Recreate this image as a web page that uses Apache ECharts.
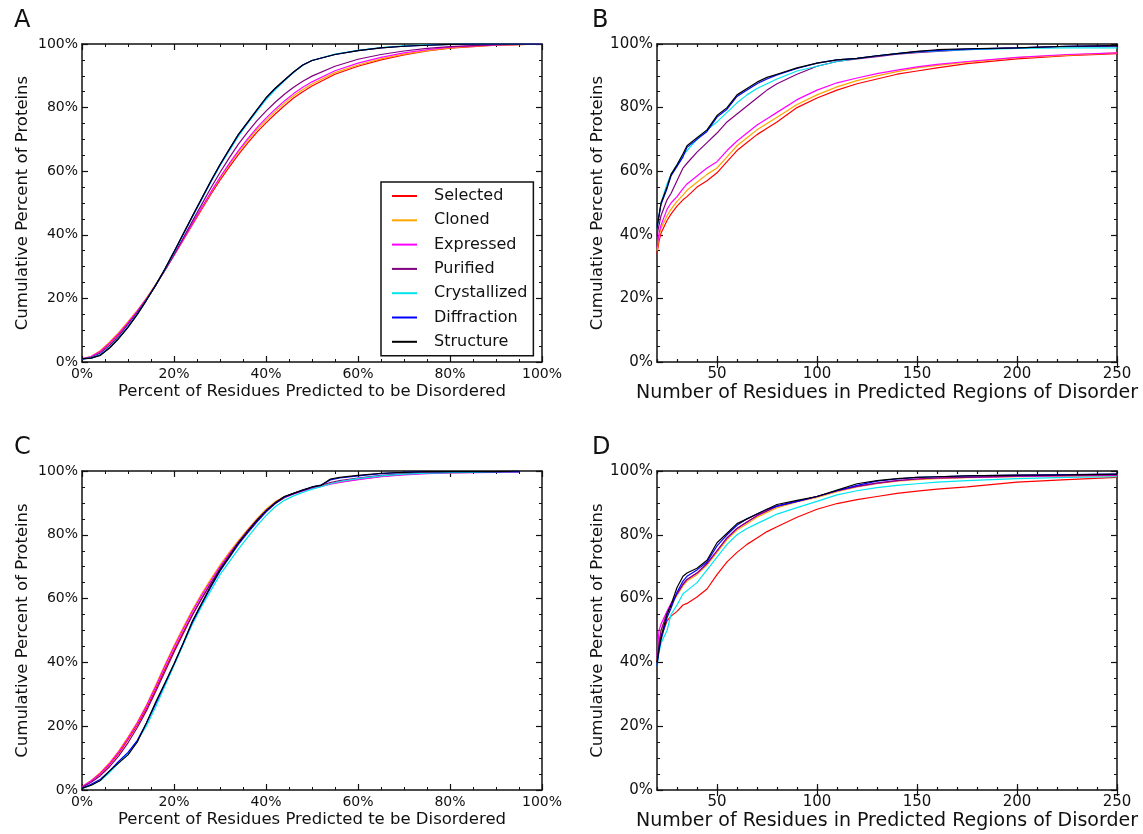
<!DOCTYPE html>
<html>
<head>
<meta charset="utf-8">
<script src="https://cdn.jsdelivr.net/npm/echarts@6/dist/echarts.min.js"></script>
<style>
  html, body { margin: 0; padding: 0; background: #fff; }
  #chart { width: 1143px; height: 834px; }
</style>
</head>
<body>
<div id="chart"></div>
<script>
// series names, in legend order
const names = ['Selected', 'Cloned', 'Expressed', 'Purified', 'Crystallized', 'Diffraction', 'Structure'];
const colors = ['#ff0000', '#ffa500', '#ff00ff', '#800080', '#00e5ee', '#0000ff', '#000000'];

// panel A: percent of residues predicted disordered (x) -> cumulative %
const xA = [0, 2, 4, 6, 8, 10, 12, 14, 16, 18, 20, 22, 24, 26, 28, 30, 32, 34, 36, 38, 40, 42, 44, 46, 48, 50, 55, 60, 65, 70, 75, 80, 85, 90, 95, 100];
const aSelected = [1, 1.6, 3.2, 5.8, 8.8, 12.2, 15.8, 19.8, 24.2, 28.8, 33.5, 38.3, 43.2, 48, 52.7, 57.2, 61.3, 65.2, 68.8, 72.2, 75.2, 78, 80.6, 83, 85, 86.8, 90.5, 93, 95, 96.6, 97.8, 98.7, 99.2, 99.6, 99.8, 100];
const aCloned = [1, 1.8, 3.6, 6.3, 9.3, 12.7, 16.2, 20.1, 24.4, 28.9, 33.6, 38.5, 43.5, 48.4, 53.2, 57.8, 62, 66, 69.6, 73, 76, 78.8, 81.4, 83.7, 85.7, 87.4, 91, 93.4, 95.3, 96.8, 97.9, 98.8, 99.3, 99.6, 99.8, 100];
const aExpressed = [1, 1.7, 3.4, 6, 9, 12.4, 16, 19.9, 24.2, 28.8, 33.6, 38.5, 43.5, 48.5, 53.4, 58.1, 62.4, 66.5, 70.2, 73.6, 76.7, 79.5, 82.1, 84.4, 86.4, 88.1, 91.6, 94, 95.8, 97.2, 98.2, 99, 99.4, 99.7, 99.9, 100];
const aPurified = [1, 1.5, 2.8, 5.2, 8.2, 11.8, 15.5, 19.6, 24.1, 28.8, 33.8, 39, 44.3, 49.5, 54.7, 59.6, 64.2, 68.5, 72.3, 75.8, 78.9, 81.7, 84.2, 86.4, 88.3, 89.9, 93, 95.2, 96.7, 97.8, 98.6, 99.2, 99.5, 99.8, 99.9, 100];
const aCrystallized = [1, 1.3, 2.4, 4.7, 7.7, 11.2, 15.1, 19.5, 24.1, 29, 34.4, 40, 45.6, 51, 56.5, 61.7, 66.4, 71, 75, 78.8, 82.5, 85.6, 88.4, 91, 93.3, 94.8, 96.8, 98, 98.9, 99.4, 99.7, 99.9, 100, 100, 100, 100];
const aDiffraction = [1, 1.2, 2.2, 4.5, 7.5, 11, 15, 19.4, 24.1, 29.1, 34.6, 40.2, 45.8, 51.3, 56.8, 62, 66.8, 71.5, 75.3, 79.2, 83, 86, 88.6, 91.2, 93.4, 94.8, 96.7, 97.9, 98.8, 99.3, 99.6, 99.9, 100, 100, 100, 100];
const aStructure = [1, 1.2, 2.1, 4.4, 7.4, 10.9, 14.9, 19.4, 24.1, 29.2, 34.7, 40.3, 45.9, 51.4, 56.9, 62.1, 66.9, 71.6, 75.4, 79.3, 83.1, 86.1, 88.7, 91.2, 93.4, 94.8, 96.7, 97.9, 98.8, 99.3, 99.6, 99.9, 100, 100, 100, 100];

// panel B: residues in predicted disordered regions (x) -> cumulative %
const xB = [20, 21, 22, 25, 27, 30, 33, 35, 40, 45, 50, 55, 60, 65, 70, 75, 80, 90, 100, 110, 120, 130, 140, 150, 160, 175, 200, 225, 250];
const bSelected = [34, 38, 40.5, 44.5, 46.5, 49, 51, 52, 55, 57, 59.5, 63, 66.5, 69, 71.5, 73.5, 75.5, 80, 83, 85.5, 87.5, 89, 90.5, 91.5, 92.5, 93.8, 95.3, 96.3, 97];
const bCloned = [35, 39.5, 42, 46, 48, 50.5, 52.5, 54, 56.5, 59, 61, 64.5, 68, 70.5, 73, 75, 77, 81, 84, 86.5, 88.5, 90, 91.3, 92.5, 93.3, 94.3, 95.7, 96.5, 97.2];
const bExpressed = [36, 40.5, 43, 48, 50, 52, 54.5, 56, 58.5, 61, 63, 66.5, 69.5, 72, 74.5, 76.5, 78.5, 82.5, 85.5, 87.8, 89.3, 90.7, 91.8, 92.8, 93.6, 94.5, 95.8, 96.7, 97.2];
const bPurified = [40, 43, 46, 51, 53, 57, 61, 62.5, 66, 69, 72, 75.5, 78, 80.5, 83, 85.5, 87.5, 90.5, 93, 94.5, 95.3, 96, 96.8, 97.3, 97.7, 98.2, 98.8, 99.2, 99.3];
const bCrystallized = [42, 46, 50, 56, 59, 62, 65, 66.5, 70, 73, 75.5, 78.5, 81.5, 84, 86, 87.5, 89, 91.5, 93, 94.5, 95.5, 96.3, 97, 97.5, 97.8, 98.2, 98.6, 98.8, 98.8];
const bDiffraction = [43, 46, 49.5, 54.5, 58.5, 61.5, 64.5, 67.5, 70, 72.5, 77, 79.5, 83.5, 85.5, 87.5, 89, 90.3, 92.3, 94, 95, 95.5, 96.3, 97, 97.6, 98, 98.4, 98.8, 99.3, 99.5];
const bStructure = [42, 46, 50, 55, 59, 62, 65.5, 68, 70.5, 73, 77.5, 80, 84, 86, 88, 89.5, 90.5, 92.5, 94, 95, 95.5, 96.3, 97, 97.7, 98.2, 98.5, 98.8, 99.3, 99.5];

// panel C
const xC = [0, 2, 4, 6, 8, 10, 12, 14, 16, 18, 20, 22, 24, 26, 28, 30, 32, 34, 36, 38, 40, 42, 44, 46, 48, 50, 52, 54, 56, 60, 65, 70, 75, 80, 85, 90, 95];
const cSelected = [1, 2.8, 5, 8, 11.5, 15.8, 20.3, 25.5, 31.5, 37.8, 43.8, 49.5, 55, 60, 64.8, 69.2, 73.4, 77.2, 80.8, 84.2, 87.2, 89.8, 91.6, 92.8, 93.8, 94.6, 95.3, 96, 96.5, 97.4, 98.3, 98.9, 99.3, 99.5, 99.6, 99.7, 99.8];
const cCloned = [1, 3, 5.5, 8.6, 12.3, 16.6, 21.2, 26.6, 32.8, 39.2, 45.3, 51, 56.5, 61.5, 66.1, 70.5, 74.5, 78.2, 81.7, 85, 88, 90.4, 92, 93, 94, 94.8, 95.5, 96.1, 96.6, 97.5, 98.4, 99, 99.4, 99.5, 99.6, 99.7, 99.8];
const cExpressed = [1, 2.9, 5.3, 8.3, 12, 16.3, 21, 26.3, 32.4, 38.8, 44.8, 50.5, 56, 61, 65.6, 70, 74, 77.8, 81.3, 84.6, 87.6, 90, 91.8, 92.8, 93.7, 94.5, 95.2, 95.9, 96.4, 97.3, 98.2, 98.8, 99.2, 99.4, 99.5, 99.6, 99.7];
const cPurified = [0.8, 2.4, 4.5, 7.3, 10.7, 14.8, 19.5, 24.8, 30.8, 37, 43.2, 49, 54.8, 60, 64.8, 69.4, 73.6, 77.6, 81.2, 84.6, 87.6, 90.1, 91.9, 93, 94, 94.8, 95.6, 96.4, 97, 97.8, 98.6, 99.1, 99.4, 99.6, 99.7, 99.8, 99.8];
const cCrystallized = [0.5, 1.5, 3, 5.5, 8.5, 11.5, 15.5, 20, 26, 32.5, 39, 45.5, 52, 57.5, 62.5, 67.5, 71.5, 75.5, 79.2, 82.8, 86, 88.8, 90.8, 92.2, 93.3, 94.3, 95.1, 96, 96.7, 97.6, 98.5, 99, 99.3, 99.5, 99.6, 99.7, 99.8];
const cDiffraction = [0.5, 1.8, 3.4, 6, 9, 11.8, 15.5, 21, 27, 33.2, 39.5, 46, 52.6, 58.2, 63.6, 68.6, 72.8, 77, 80.6, 84, 87.2, 89.8, 91.8, 93, 94, 95, 95.6, 97.2, 97.8, 98.5, 99.2, 99.6, 99.8, 99.8, 99.8, 99.8, 99.8];
const cStructure = [0.5, 1.5, 3, 6, 8.5, 11, 15, 21, 27.5, 33.5, 39.5, 46, 53, 58.5, 64, 69, 73, 77.5, 81, 84.5, 87.5, 90, 92, 93, 94, 95, 95.5, 97.5, 98, 98.6, 99.3, 99.6, 99.8, 99.8, 99.8, 99.8, 100];

// panel D
const xD = [20, 21, 22, 25, 27, 30, 33, 35, 40, 45, 50, 55, 60, 65, 70, 75, 80, 90, 100, 110, 120, 130, 140, 150, 160, 175, 200, 225, 250];
const dSelected = [40, 45, 48, 53, 54.5, 56, 58, 58.5, 60.5, 63, 67.5, 71.5, 74.5, 77, 79, 81, 82.5, 85.5, 88, 89.8, 91, 92, 93, 93.7, 94.3, 95, 96.5, 97.3, 98];
const dCloned = [41, 46, 50, 55, 58, 61, 64, 65.5, 67.5, 70.5, 74.5, 78.5, 81.5, 83.5, 85.5, 87, 88.5, 90.3, 91.7, 93.5, 95, 96, 96.8, 97.3, 97.6, 97.9, 98.2, 98.4, 98.5];
const dExpressed = [42, 50, 52, 56, 58.5, 61.5, 64.5, 66, 68, 71, 75, 79, 82, 84, 86, 87.5, 89, 90.5, 92, 93.8, 95.2, 96.2, 97, 97.5, 97.8, 98, 98.3, 98.5, 98.6];
const dPurified = [41, 46, 50, 55.5, 58, 61.5, 64.5, 66, 68, 71, 75, 79, 82, 84, 86, 87.5, 89, 90.5, 92, 93.8, 95.2, 96.2, 97, 97.5, 97.8, 98, 98.4, 98.7, 98.8];
const dCrystallized = [39, 43, 46, 50, 55, 58, 61.5, 62.5, 65, 69, 73, 77, 80, 82, 83.5, 85, 86.5, 88.5, 90.5, 92.5, 93.8, 94.8, 95.5, 96, 96.5, 97, 97.6, 98, 98.2];
const dDiffraction = [39, 44, 47, 54, 57, 62, 65.5, 67, 69, 71.5, 76.5, 80, 83, 85, 86.5, 88, 89, 90.5, 92, 93.8, 95.5, 96.8, 97.5, 98, 98.2, 98.5, 98.7, 98.9, 99];
const dStructure = [40, 44, 48, 55, 58, 63.5, 67, 68, 69.5, 72, 77.5, 80.5, 83.5, 85, 86.5, 88, 89.5, 90.8, 92, 94, 96, 97, 97.6, 98, 98.2, 98.5, 98.7, 98.8, 99];

const panels = [
  { letter: 'A', x: xA, ys: [aSelected, aCloned, aExpressed, aPurified, aCrystallized, aDiffraction, aStructure],
    left: 82, top: 44, height: 318, kind: 'pct', xName: 'Percent of Residues Predicted to be Disordered' },
  { letter: 'B', x: xB, ys: [bSelected, bCloned, bExpressed, bPurified, bCrystallized, bDiffraction, bStructure],
    left: 657, top: 44, height: 318, kind: 'num', xName: 'Number of Residues in Predicted Regions of Disorder' },
  { letter: 'C', x: xC, ys: [cSelected, cCloned, cExpressed, cPurified, cCrystallized, cDiffraction, cStructure],
    left: 82, top: 471, height: 319, kind: 'pct', xName: 'Percent of Residues Predicted te be Disordered' },
  { letter: 'D', x: xD, ys: [dSelected, dCloned, dExpressed, dPurified, dCrystallized, dDiffraction, dStructure],
    left: 657, top: 471, height: 319, kind: 'num', xName: 'Number of Residues in Predicted Regions of Disorder' }
];

const font = 'DejaVu Sans';
const ink = '#111';
const axisLine = { show: true, onZero: false, lineStyle: { color: ink, width: 1.5 } };

let grids = [], xAxes = [], yAxes = [], series = [], titles = [];

panels.forEach(function (p, gi) {
  grids.push({ left: p.left, top: p.top, width: 460, height: p.height });
  titles.push({
    text: p.letter, left: p.left - (p.kind === 'pct' ? 73 : 70), top: p.top - 40,
    textStyle: { fontFamily: font, fontSize: 24, fontWeight: 'normal', color: ink }
  });

  const isPct = p.kind === 'pct';
  const xMain = xAxes.length;
  const xBase = isPct
    ? { min: 0, max: 100, interval: 20 }
    : { min: 20, max: 250, interval: 10 };
  const labelSize = isPct ? 14 : 15;

  // bottom axis with labels
  xAxes.push(Object.assign({
    type: 'value', gridIndex: gi, position: 'bottom',
    name: p.xName, nameLocation: 'middle', nameGap: isPct ? 21 : 22,
    nameTextStyle: { fontFamily: font, fontSize: isPct ? 16.5 : 19, color: ink },
    axisLine: axisLine,
    axisTick: { show: true, inside: true, length: isPct ? 6 : 3, lineStyle: { color: ink, width: 1.2 } },
    minorTick: { show: isPct, splitNumber: 4, length: 3, lineStyle: { color: ink, width: 1 } },
    splitLine: { show: false },
    axisLabel: {
      fontFamily: font, fontSize: labelSize, color: ink, margin: 5, interval: 0,
      showMinLabel: true, showMaxLabel: true,
      formatter: isPct ? '{value}%' : function (v) { return v % 50 === 0 ? String(v) : ''; }
    }
  }, xBase));
  // mirrored top axis
  xAxes.push(Object.assign({
    type: 'value', gridIndex: gi, position: 'top',
    axisLine: axisLine,
    axisTick: { show: true, inside: true, length: isPct ? 6 : 3, lineStyle: { color: ink, width: 1.2 } },
    minorTick: { show: isPct, splitNumber: 4, length: 3, lineStyle: { color: ink, width: 1 } },
    splitLine: { show: false }, axisLabel: { show: false }
  }, xBase));
  if (!isPct) {
    // longer ticks at every 50 residues, bottom and top
    ['bottom', 'top'].forEach(function (pos) {
      xAxes.push({
        type: 'value', gridIndex: gi, position: pos, min: 20, max: 250,
        axisLine: { show: false },
        axisTick: { show: true, inside: true, length: 6, customValues: [50, 100, 150, 200, 250],
          lineStyle: { color: ink, width: 1.2 } },
        splitLine: { show: false }, axisLabel: { show: false }
      });
    });
  }

  const yMain = yAxes.length;
  const yBase = { type: 'value', gridIndex: gi, min: 0, max: 100, interval: 20 };
  yAxes.push(Object.assign({
    position: 'left',
    name: 'Cumulative Percent of Proteins', nameLocation: 'middle', nameGap: 51,
    nameTextStyle: { fontFamily: font, fontSize: 16.5, color: ink },
    axisLine: axisLine,
    axisTick: { show: true, inside: true, length: 6, lineStyle: { color: ink, width: 1.2 } },
    minorTick: { show: true, splitNumber: 4, length: 3, lineStyle: { color: ink, width: 1 } },
    splitLine: { show: false },
    axisLabel: { fontFamily: font, fontSize: labelSize, color: ink, margin: 4, formatter: '{value}%' }
  }, yBase));
  yAxes.push(Object.assign({
    position: 'right',
    axisLine: axisLine,
    axisTick: { show: true, inside: true, length: 6, lineStyle: { color: ink, width: 1.2 } },
    minorTick: { show: true, splitNumber: 4, length: 3, lineStyle: { color: ink, width: 1 } },
    splitLine: { show: false }, axisLabel: { show: false }
  }, yBase));

  names.forEach(function (n, si) {
    series.push({
      name: n, type: 'line', xAxisIndex: xMain, yAxisIndex: yMain,
      symbol: 'none', showSymbol: false, animation: false,
      lineStyle: { color: colors[si], width: 1.2 },
      itemStyle: { color: colors[si] },
      data: p.x.map(function (xv, k) { return [xv, p.ys[si][k]]; })
    });
  });
});

const chart = echarts.init(document.getElementById('chart'));
chart.setOption({
  backgroundColor: '#fff',
  animation: false,
  title: titles,
  legend: {
    data: names.map(function (n) { return { name: n, icon: 'rect' }; }),
    orient: 'vertical', left: 381, top: 182,
    backgroundColor: '#fff', borderColor: ink, borderWidth: 1.5,
    padding: [5, 6, 5, 11], itemWidth: 25, itemHeight: 2, itemGap: 6.3,
    textStyle: { fontFamily: font, fontSize: 16, lineHeight: 18, color: ink, padding: [0, 0, 0, 12] }
  },
  grid: grids,
  xAxis: xAxes,
  yAxis: yAxes,
  series: series
});
</script>
</body>
</html>
